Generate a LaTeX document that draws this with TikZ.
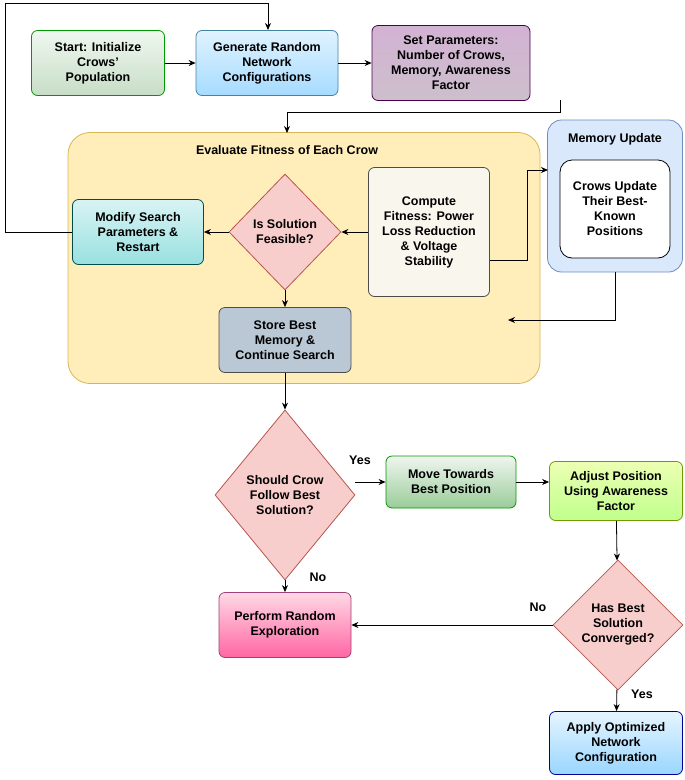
\documentclass[tikz,border=0pt]{standalone}
\usepackage{fontspec}
\setmainfont{Liberation Sans}
\usetikzlibrary{shapes.geometric,arrows.meta}
\definecolor{beige}{RGB}{249,247,237}
\definecolor{slateb}{RGB}{186,200,214}
\definecolor{cfill}{RGB}{255,238,186}
\definecolor{cdraw}{RGB}{214,182,86}
\definecolor{mfill}{RGB}{218,232,252}
\definecolor{mdraw}{RGB}{108,142,191}
\definecolor{dfill}{RGB}{248,206,204}
\definecolor{ddraw}{RGB}{184,84,80}
\begin{document}
\begin{tikzpicture}[x=1pt,y=-1pt,
 box/.style={draw=#1!60!black,rounded corners=6pt,line width=0.8pt,align=center,font=\fontsize{12.5}{15}\selectfont\bfseries,inner sep=1pt},
 dia/.style={diamond,draw=ddraw,fill=dfill,line width=0.8pt,align=center,font=\fontsize{12.5}{15}\selectfont\bfseries,inner sep=-12pt,minimum width=#1},
 arr/.style={-{Stealth[length=7pt,width=6pt]},line width=0.8pt},
 lab/.style={font=\fontsize{12.5}{15}\selectfont\bfseries}]
\useasboundingbox (0,0) rectangle (685,780);
\node[box=green,top color=green!50!black!6!white,bottom color=green!40!black!22!white,minimum width=133,minimum height=65] (start) at (98,63) {Start: Initialize\\Crows'\\Population};
\node[box=cyan,top color=cyan!60!blue!12,bottom color=cyan!60!blue!35,minimum width=142,minimum height=65] (gen) at (267,63) {Generate Random\\Network\\Configurations};
\node[box=violet,top color=violet!50!white!85!gray!60,bottom color=violet!25!gray!40,minimum width=158,minimum height=75] (set) at (451,63) {Set Parameters:\\Number of Crows,\\Memory, Awareness\\Factor};
\node[draw=cdraw,fill=cfill,rounded corners=22pt,line width=0.8pt,minimum width=472,minimum height=251] (cont) at (304,258) {};
\node[lab] (ttl) at (287,150) {Evaluate Fitness of Each Crow};
\node[draw=mdraw,fill=mfill,rounded corners=14pt,line width=0.8pt,minimum width=135,minimum height=152] (mem) at (615,196) {};
\node[lab] (memt) at (615,139) {Memory Update};
\node[box=black,fill=white,rounded corners=12pt,minimum width=110,minimum height=98] (memin) at (615,209) {Crows Update\\Their Best-\\Known\\Positions};
\node[box=gray,fill=beige,minimum width=121,minimum height=129] (fit) at (429,232) {Compute\\Fitness: Power\\Loss Reduction\\\& Voltage\\Stability};
\node[dia=112,minimum height=116,aspect=0.95] (d1) at (285,232) {Is Solution\\Feasible?};
\node[box=teal,top color=cyan!40!teal!15,bottom color=cyan!40!teal!40,minimum width=131,minimum height=65] (mod) at (138,232) {Modify Search\\Parameters \&\\Restart};
\node[box=gray,fill=slateb,minimum width=132,minimum height=65] (store) at (285,340) {Store Best\\Memory \&\\Continue Search};
\node[dia=140,minimum height=170,aspect=0.8] (d2) at (285,495) {Should Crow\\Follow Best\\Solution?};
\node[box=green,top color=green!40!black!6!white,bottom color=green!50!black!40!white,minimum width=130,minimum height=52] (move) at (451,482) {Move Towards\\Best Position};
\node[box=lime,top color=lime!30,bottom color=lime!60!green!45,minimum width=133,minimum height=59] (adj) at (616,491) {Adjust Position\\Using Awareness\\Factor};
\node[dia=130,minimum height=130,aspect=1] (d3) at (618,625) {Has Best\\Solution\\Converged?};
\node[box=magenta,top color=magenta!30!red!15,bottom color=magenta!40!red!60,minimum width=132,minimum height=65] (rand) at (285,625) {Perform Random\\Exploration};
\node[box=blue,top color=blue!40!cyan!10,bottom color=blue!40!cyan!40,minimum width=133,minimum height=63] (app) at (616,743) {Apply Optimized\\Network\\Configuration};
\coordinate (gtop) at (268,30);
\draw[arr] (start) -- (gen);
\draw[arr] (gen) -- (set);
\draw[arr] (560,100) -- (560,112) -- (287,112) -- (287,133);
\draw[arr] (mod.west) -- (5,232) -- (5,3) -- (268,3) -- (gtop);
\draw[arr] (fit) -- (d1);
\draw[arr] (d1) -- (mod);
\draw[arr] (d1) -- (store);
\draw[arr] (490,260) -- (527,260) -- (527,170) -- (548,170);
\draw[arr] (615,272) -- (615,320) -- (508,320);
\draw[arr] (store) -- (d2);
\draw[arr] (d2.east |- move.west) -- (move.west);
\draw[arr] (move.east) -- (adj.west |- move.east);
\draw[arr] (adj) -- (d3);
\draw[arr] (d2) -- (rand);
\draw[arr] (d3.west) -- (rand.east);
\draw[arr] (d3) -- (app);
\node[lab] (y1) at (360,460) {Yes};
\node[lab] (n1) at (318,577) {No};
\node[lab] (n2) at (538,607) {No};
\node[lab] (y2) at (642,694) {Yes};
\end{tikzpicture}
\end{document}
